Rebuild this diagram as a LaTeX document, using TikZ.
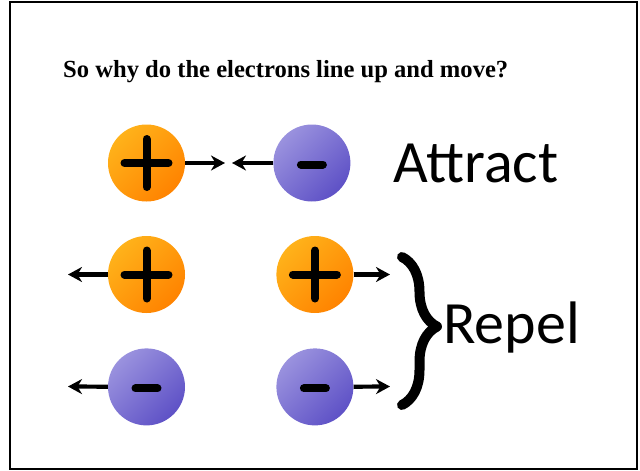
\documentclass[tikz,border=0pt]{standalone}
\usepackage{fontspec}
\setmainfont{Liberation Serif}
\newfontfamily\labelfont{Carlito}
\usepackage{tikz}
\usetikzlibrary{arrows.meta, positioning, decorations.pathreplacing}
\definecolor{orangeL}{HTML}{FFB21A}
\definecolor{orangeD}{HTML}{FF8300}
\definecolor{violetL}{HTML}{9A92DE}
\definecolor{violetD}{HTML}{5E51C6}

\begin{document}
\begin{tikzpicture}[x=1pt, y=-1pt,
    charge/.style={circle, minimum size=77pt, inner sep=0pt},
    plusq/.style={charge, top color=orangeL, bottom color=orangeD, shading angle=45,
      path picture={
        \draw[line width=8pt, line cap=round]
          ([xshift=-22pt]path picture bounding box.center) --
          ([xshift=22pt]path picture bounding box.center)
          ([yshift=-24pt]path picture bounding box.center) --
          ([yshift=24pt]path picture bounding box.center);}},
    minusq/.style={charge, top color=violetL, bottom color=violetD, shading angle=45,
      path picture={
        \draw[line width=8pt, line cap=round]
          ([xshift=-11pt,yshift=-1.5pt]path picture bounding box.center) --
          ([xshift=11pt,yshift=-1.5pt]path picture bounding box.center);}},
    arr/.style={-{Stealth[length=14pt, width=15pt, inset=4.5pt]}, line width=4.2pt},
    word/.style={font=\labelfont\fontsize{60}{66}\selectfont, anchor=base west, inner sep=0pt},
  ]
    \useasboundingbox (0,0) rectangle (640,471);
    \draw[line width=2.5pt] (10,2) rectangle (637,469);

    \node[anchor=base west, inner sep=0pt, font=\bfseries\fontsize{24.6}{28}\selectfont]
      (title) at (63,77) {So why do the electrons line up and move?};

    % attract row
    \node[plusq] (posA) at (146.5,163) {};
    \node[minusq] (negA) [right=88pt of posA] {};
    \coordinate (tipA) at (225,163);
    \coordinate (tipB) at (232,163);
    \draw[arr] (posA) -- (tipA);
    \draw[arr] (negA) -- (tipB);
    \node[word] (attract) at (393,182) {Attract};

    % repel rows
    \node[plusq] (posL) at (146.5,274.5) {};
    \node[plusq] (posR) [right=91pt of posL] {};
    \node[minusq] (negL) [below=35pt of posL] {};
    \node[minusq] (negR) [below=35pt of posR] {};
    \coordinate (tipPL) at (68,274.5);
    \coordinate (tipPR) at (390,274.5);
    \coordinate (tipNL) at (68,386.5);
    \coordinate (tipNR) at (390,386.5);
    \draw[arr] (posL) -- (tipPL);
    \draw[arr] (posR) -- (tipPR);
    \draw[arr] (negL) -- (tipNL);
    \draw[arr] (negR) -- (tipNR);

    \coordinate (braceTop) at (402,257);
    \coordinate (braceBot) at (402,405);
    \draw[line width=10pt, line cap=round, line join=round,
      decorate, decoration={brace, amplitude=35pt, aspect=0.47}] (braceTop) -- (braceBot);
    \node[word] (repel) at (443,343) {Repel};
\end{tikzpicture}
\end{document}
